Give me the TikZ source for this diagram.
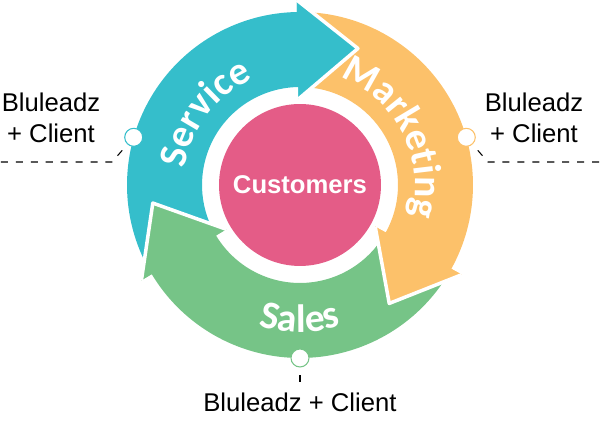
\documentclass[tikz,border=0pt]{standalone}
\usepackage{fontspec}
\setmainfont{Liberation Sans}
\newfontfamily\arcfont{Carlito}
\usetikzlibrary{decorations.text}

\definecolor{svcteal}{RGB}{53,190,203}
\definecolor{mktorange}{RGB}{252,193,106}
\definecolor{salegreen}{RGB}{118,196,135}
\definecolor{custpink}{RGB}{228,92,135}

\newcommand{\arcstyle}{\arcfont\bfseries\fontsize{22.5}{26}\selectfont\color{white}}

\tikzset{
  headgap/.style={draw=white, line width=2pt, line join=round},
  custnode/.style={circle, fill=custpink, minimum size=3.24cm, inner sep=0pt,
    text=white, font=\bfseries\fontsize{14.6}{17}\selectfont},
  dot/.style={circle, fill=white, draw=#1, line width=0.6pt, minimum size=0.36cm, inner sep=0pt},
  lbl/.style={font=\fontsize{14.6}{17.6}\selectfont, align=center},
  leader/.style={line width=0.6pt, dash pattern=on 4pt off 4.5pt, dash phase=4pt}
}

\begin{document}
\begin{tikzpicture}[x=0.02cm,y=0.02cm]
  \useasboundingbox (-300,-236) rectangle (300,185);
  \coordinate (svcbend) at (-188,23);
  \coordinate (svcend) at (-300,23);
  \coordinate (mktbend) at (188,23);
  \coordinate (mktend) at (300,23);
\fill[svcteal] (206:173) arc[start angle=206, end angle=91, radius=173] -- (91:185) -- (67:148.3) -- (91:86) -- (91:98) arc[start angle=91, end angle=206, radius=98] -- cycle;
\fill[mktorange] (86:173) arc[start angle=86, end angle=-29, radius=173] -- (-29:185) -- (-53:148.3) -- (-29:86) -- (-29:98) arc[start angle=-29, end angle=86, radius=98] -- cycle;
\fill[salegreen] (326:173) arc[start angle=326, end angle=211, radius=173] -- (211:185) -- (187:148.3) -- (211:86) -- (211:98) arc[start angle=211, end angle=326, radius=98] -- cycle;
\fill[svcteal] (91:185) -- (67:148.3) -- (91:86) -- cycle;
\draw[headgap] (91:185) -- (67:148.3) -- (91:86);
\fill[mktorange] (-29:185) -- (-53:148.3) -- (-29:86) -- cycle;
\draw[headgap] (-29:185) -- (-53:148.3) -- (-29:86);
\fill[salegreen] (211:185) -- (187:148.3) -- (211:86) -- cycle;
\draw[headgap] (211:185) -- (187:148.3) -- (211:86);
\path[decorate, decoration={text along path, text align=center, text={|\arcstyle|Service}}]
  (184:116) arc[start angle=184, end angle=102, radius=116];
\path[decorate, decoration={text along path, text align=center, text={|\arcstyle|Marketing}}]
  (87:115) arc[start angle=87, end angle=-33, radius=115];
\path[decorate, decoration={text along path, text align=center, text={|\arcstyle|Sales}}]
  (225:147) arc[start angle=225, end angle=315, radius=147];
\node[custnode] (cust) at (0,0) {Customers};
\node[dot=svcteal] (svcdot) at (164:173) {};
\node[dot=mktorange] (mktdot) at (16:173) {};
\node[dot=salegreen] (saledot) at (270:173) {};
\node[lbl] (svclbl) at (-249,67) {Bluleadz\\+ Client};
\node[lbl] (mktlbl) at (234,67) {Bluleadz\\+ Client};
\node[lbl, anchor=base] (salelbl) at (0,-227) {Bluleadz + Client};
\draw[leader] (svcdot) -- (svcbend) -- (svcend);
\draw[leader] (mktdot) -- (mktbend) -- (mktend);
\draw[leader] (saledot) -- (salelbl);
\end{tikzpicture}
\end{document}
